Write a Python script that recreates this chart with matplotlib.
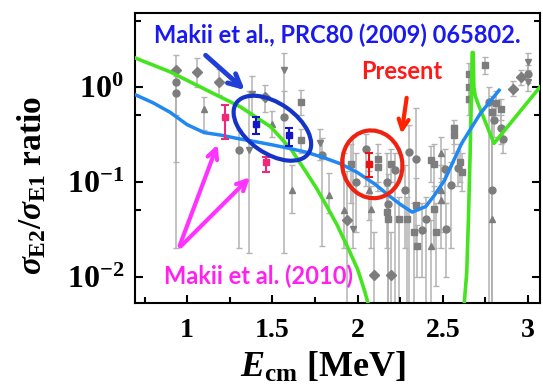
import numpy as np
import matplotlib
matplotlib.use("Agg")
import matplotlib.pyplot as plt
from matplotlib.patches import Ellipse
from matplotlib.transforms import ScaledTranslation

plt.rcParams['font.family'] = 'Liberation Serif'
plt.rcParams['font.weight'] = 'bold'
plt.rcParams['mathtext.fontset'] = 'custom'
plt.rcParams['mathtext.rm'] = 'Liberation Serif:bold'
plt.rcParams['mathtext.it'] = 'Liberation Serif:bold:italic'
plt.rcParams['mathtext.bf'] = 'Liberation Serif:bold'

# gray data (other measurements): energy, ratio, lower bound, upper bound, marker
gray_E = [0.935, 0.935, 0.935, 1.057, 1.10, 1.184, 1.306, 1.365, 1.38, 1.455,
          1.50, 1.567, 1.567, 1.665, 1.665, 1.616, 1.78, 1.79, 1.83, 1.92,
          1.94, 1.97, 1.96, 1.99, 2.047, 2.067, 2.08, 2.12, 2.12, 2.175,
          2.194, 2.22, 2.18, 2.175, 2.18, 2.24, 2.29, 2.30, 2.34, 2.28,
          2.34, 2.33, 2.40, 2.38, 2.35, 2.43, 2.45, 2.46, 2.49, 2.49,
          2.52, 2.45, 2.43, 2.49, 2.51, 2.55, 2.566, 2.566, 2.60, 2.61,
          2.59, 2.656, 2.656, 2.656, 2.745, 2.77, 2.81, 2.84, 2.79, 2.80,
          2.84, 2.85, 2.79, 2.79, 2.91, 2.96, 3.0, 3.0, 3.0, 2.096, 2.194]
gray_R = [1.52, 1.13, 0.87, 1.44, 0.58, 1.13, 0.216, 0.216, 0.85, 0.78,
          0.41, 1.5, 0.48, 0.70, 0.275, 0.082, 0.254, 0.19, 0.072, 0.05,
          0.0395, 0.032, 0.156, 0.10, 0.224, 0.082, 0.052, 0.176, 0.144, 0.10,
          0.156, 0.133, 0.059, 0.048, 0.041, 0.041, 0.041, 0.207, 0.176, 0.082,
          0.057, 0.030, 0.041, 0.031, 0.021, 0.021, 0.052, 0.030, 0.082, 0.064,
          0.032, 0.156, 0.17, 0.20, 0.138, 0.092, 0.365, 0.31, 0.163, 0.127,
          0.14, 1.38, 1.0, 0.75, 1.69, 0.695, 0.67, 0.59, 0.545, 0.45,
          0.365, 0.286, 0.082, 0.041, 0.96, 1.27, 1.83, 1.38, 1.13, 0.0104, 0.0104]
gray_lo = [0.16, 0.02, 0.5, 1.0, 0.35, 0.82, 0.02, 0.018, 0.5, 0.55,
           0.3, 0.5, 0.018, 0.5, 0.2, 0.047, 0.17, 0.021, 0.047, 0.02,
           0.003, 0.02, 0.06, 0.03, 0.09, 0.04, 0.02, 0.1, 0.08, 0.05,
           0.1, 0.003, 0.003, 0.02, 0.003, 0.003, 0.003, 0.003, 0.05, 0.02,
           0.02, 0.003, 0.003, 0.01, 0.01, 0.003, 0.02, 0.008, 0.03, 0.02,
           0.01, 0.08, 0.1, 0.1, 0.06, 0.02, 0.25, 0.2, 0.1, 0.08,
           0.09, 1.0, 0.7, 0.5, 1.38, 0.003, 0.5, 0.45, 0.003, 0.3,
           0.25, 0.2, 0.003, 0.003, 0.8, 1.05, 1.5, 1.1, 0.9, 0.003, 0.003]
gray_hi = [2.15, 1.6, 1.3, 2.0, 0.78, 1.56, 0.35, 0.9, 1.3, 1.05,
           0.56, 2.3, 0.9, 0.92, 0.36, 0.15, 0.36, 0.29, 0.123, 0.2,
           0.13, 0.3, 0.25, 0.2, 0.32, 0.13, 0.09, 0.25, 0.2, 0.2,
           0.22, 0.2, 0.12, 0.09, 0.07, 0.07, 0.07, 0.4, 0.6, 0.15,
           0.11, 0.06, 0.07, 0.06, 0.035, 0.04, 0.09, 0.06, 0.15, 0.11,
           0.06, 0.25, 0.24, 0.3, 0.22, 0.16, 0.45, 0.4, 0.25, 0.2,
           0.21, 1.8, 1.4, 1.0, 2.07, 1.0, 0.9, 0.75, 0.8, 0.6,
           0.5, 0.36, 0.5, 0.3, 1.15, 1.5, 2.3, 1.7, 1.4, 0.03, 0.03]
gray_mk = ['D', 'o', 'o', 'D', '^', 'D', 'o', 'v', 'v', 'D',
           '^', 'v', 'o', 's', 's', '^', 'v', 'o', '^', '^',
           'D', 'v', 's', 'o', 'o', '^', '^', 's', 's', 'o',
           's', 'o', 'o', 's', 's', 's', 's', 'o', 'o', 'o',
           's', 's', 'o', 'o', 's', '^', 's', 's', '^', '^',
           'o', 's', 's', '^', 'o', 'o', 's', 's', 's', 's',
           'o', 's', 's', 's', 's', 'o', 's', 's', 's', 'o',
           'o', 'o', 'o', '^', 'D', 'D', 'v', 'o', 'v', 'D', 'D']

# Makii et al. (2010)
mag_E = [1.224, 1.463]
mag_R = [0.483, 0.16]
mag_lo = [0.286, 0.127]
mag_hi = [0.64, 0.183]

# Makii et al., PRC80 (2009)
blu_E = [1.406, 1.60]
blu_R = [0.41, 0.315]
blu_lo = [0.32, 0.24]
blu_hi = [0.48, 0.37]

# present work
red_E = [2.067]
red_R = [0.156]
red_lo = [0.113]
red_hi = [0.20]

# model curves
curve_b_E = [0.70, 0.80, 0.90, 1.00, 1.10, 1.20, 1.30, 1.40, 1.50, 1.60, 1.70, 1.80,
             1.90, 2.00, 2.10, 2.20, 2.25, 2.32, 2.40, 2.45, 2.51, 2.61, 2.72, 2.83]
curve_b_R = [0.82, 0.68, 0.54, 0.40, 0.33, 0.31, 0.285, 0.265, 0.245, 0.225, 0.205, 0.18,
             0.155, 0.125, 0.095, 0.068, 0.058, 0.048, 0.055, 0.072, 0.104, 0.254, 0.525, 0.92]
curve_g_E = [0.70, 0.90, 1.155, 1.31, 1.49, 1.61, 1.70, 1.76, 1.82, 1.88, 1.95, 2.00, 2.04, 2.08,
             np.nan,
             2.62, 2.64, 2.65, 2.66, 2.668, 2.672, 2.678, 2.682, 2.69, 2.71, 2.80, 3.08]
curve_g_R = [2.0, 1.44, 0.85, 0.62, 0.38, 0.22, 0.125, 0.085, 0.055, 0.035, 0.019, 0.012, 0.0072, 0.004,
             np.nan,
             0.004, 0.011, 0.04, 0.2, 0.9, 2.3, 2.3, 1.0, 0.8, 0.64, 0.254, 1.05]

fig = plt.figure(figsize=(5.43, 3.89), dpi=100)
ax = fig.add_axes([0.2486, 0.2211, 0.7459, 0.7455])
ax.set_yscale('log')
ax.set_xlim(0.694, 3.07)
ax.set_ylim(0.0053, 6.0)

gray_E = np.array(gray_E); gray_R = np.array(gray_R)
gray_lo = np.array(gray_lo); gray_hi = np.array(gray_hi)
yerr = [gray_R - gray_lo, gray_hi - gray_R]
ax.errorbar(gray_E, gray_R, yerr=yerr, fmt='none', ecolor='#b3b3b3', elinewidth=1.1,
            capsize=2.5, capthick=1.0, zorder=1)
for m in set(gray_mk):
    idx = [i for i, k in enumerate(gray_mk) if k == m]
    ax.plot(gray_E[idx], gray_R[idx], ls='none', marker=m, ms=5, color='#7d7d7d', zorder=2)

ax.plot(curve_g_E, curve_g_R, color='#44e41e', lw=2.6, zorder=3)
ax.plot(curve_b_E, curve_b_R, color='#2088f0', lw=2.5, zorder=3)


def errpts(E, R, lo, hi, col):
    E = np.array(E); R = np.array(R)
    ax.errorbar(E, R, yerr=[R - np.array(lo), np.array(hi) - R], fmt='s', ms=5,
                color=col, ecolor=col, elinewidth=1.5, capsize=3, capthick=1.5, zorder=5)


errpts(mag_E, mag_R, mag_lo, mag_hi, '#f0287a')
errpts(blu_E, blu_R, blu_lo, blu_hi, '#1414c8')
errpts(red_E, red_R, red_lo, red_hi, '#ee1111')


def ellipse(x, y, w, h, ang, col):
    tr = fig.dpi_scale_trans + ScaledTranslation(x, y, ax.transData)
    ax.add_patch(Ellipse((0, 0), w, h, angle=ang, transform=tr, fill=False,
                         ec=col, lw=3, zorder=6))


ellipse(1.50, 0.367, 0.88, 0.50, -35, '#1434c8')
ellipse(2.086, 0.153, 0.60, 0.68, 10, '#ee2211')

arr = dict(arrowstyle='->', lw=3, mutation_scale=18)
ax.annotate('', xy=(1.35, 0.885), xytext=(1.096, 2.25),
            arrowprops=dict(arr, color='#1f3fd8', lw=3.5, mutation_scale=22), zorder=7)
ax.annotate('', xy=(2.255, 0.30), xytext=(2.29, 0.82),
            arrowprops=dict(arr, color='#ff2200'), zorder=7)
ax.annotate('', xy=(1.184, 0.263), xytext=(0.95, 0.0199),
            arrowprops=dict(arr, color='#ff33ff'), zorder=7)
ax.annotate('', xy=(1.38, 0.117), xytext=(0.95, 0.0199),
            arrowprops=dict(arr, color='#ff33ff'), zorder=7)

ax.text(1.88, 3.5, 'Makii et al., PRC80 (2009) 065802.', color='#1a1aee',
        family='Lato', weight='bold', fontsize=17, ha='center', va='center', zorder=8)
ax.text(2.26, 1.45, 'Present', color='#ff1a1a', family='Lato', weight='bold',
        fontsize=17, ha='center', va='center', zorder=8)
ax.text(1.42, 0.0102, 'Makii et al. (2010)', color='#ff22ee', family='Lato', weight='bold',
        fontsize=17, ha='center', va='center', zorder=8)

ax.set_xticks([1, 1.5, 2, 2.5, 3])
ax.set_xticklabels(['1', '1.5', '2', '2.5', '3'])
ax.set_xticks([0.75, 1.25, 1.75, 2.25, 2.75], minor=True)
ax.set_yticks([0.01, 0.1, 1])
ax.set_yticklabels([r'$10^{-2}$', r'$10^{-1}$', r'$10^{0}$'])
ax.set_yticks([0.05, 0.5, 5], minor=True)
ax.yaxis.set_minor_formatter(matplotlib.ticker.NullFormatter())
ax.tick_params(axis='both', which='both', direction='in', width=1.5, right=True, top=False)
ax.tick_params(which='major', length=6)
ax.tick_params(which='minor', length=4)
ax.tick_params(axis='x', labelsize=20, pad=11)
ax.tick_params(axis='y', labelsize=23, pad=8)
for s in ax.spines.values():
    s.set_linewidth(1.5)

fig.text(0.058, 0.524, r'$\sigma_{\rm E2}/\sigma_{\rm E1}$ ratio', rotation=90,
         ha='center', va='center', fontsize=24)
fig.text(0.595, 0.054, r'$\mathit{E}_{\rm cm}$ [MeV]', ha='center', va='center', fontsize=26)

fig.savefig('out.png', dpi=100)
